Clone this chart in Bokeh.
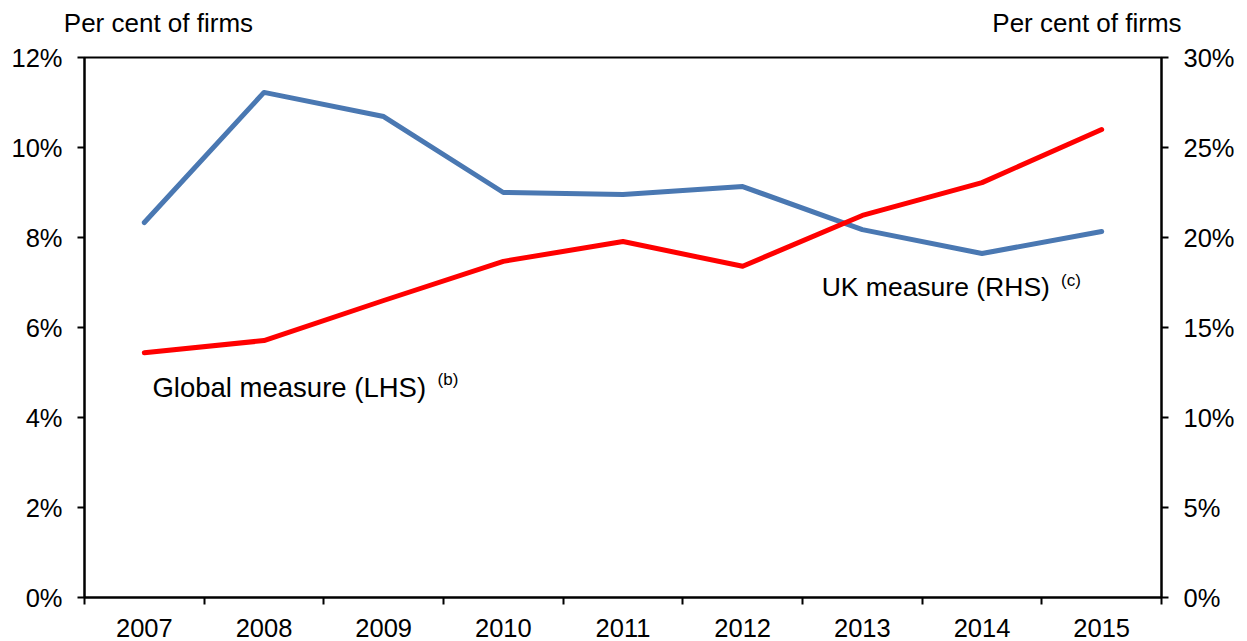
from bokeh.plotting import figure
from bokeh.models import Range1d, LinearAxis, FixedTicker, PrintfTickFormatter, Label
from bokeh.embed import file_html
from bokeh.resources import INLINE

years = ["2007", "2008", "2009", "2010", "2011", "2012", "2013", "2014", "2015"]
global_lhs = [5.44, 5.71, 6.60, 7.47, 7.91, 7.36, 8.49, 9.22, 10.40]
uk_rhs = [20.83, 28.06, 26.72, 22.50, 22.39, 22.83, 20.44, 19.11, 20.33]
left_ticks = [0, 2, 4, 6, 8, 10, 12]
right_ticks = [0, 5, 10, 15, 20, 25, 30]
axis_title = "Per cent of firms"
global_label = "Global measure (LHS)"
global_note = "(b)"
uk_label = "UK measure (RHS)"
uk_note = "(c)"

FONT = "Liberation Sans"
FS = "25.5px"
xs = list(range(len(years)))

p = figure(width=1247, height=641, output_backend="svg", toolbar_location=None,
           x_range=Range1d(-0.5, len(years) - 0.5), y_range=Range1d(0, 12),
           min_border_left=84, min_border_right=86, min_border_top=57, min_border_bottom=44)
p.extra_y_ranges = {"rhs": Range1d(0, 30)}
p.grid.visible = False
p.outline_line_color = "black"
p.outline_line_width = 2
p.background_fill_color = "white"
p.border_fill_color = "white"

# x axis
xa = p.xaxis[0]
xa.ticker = FixedTicker(ticks=xs, minor_ticks=[i - 0.5 for i in range(len(years) + 1)])
xa.major_label_overrides = {i: y for i, y in enumerate(years)}
xa.major_tick_out = 0
xa.major_tick_in = 0
xa.minor_tick_out = 7
xa.minor_tick_in = 0
xa.minor_tick_line_color = "black"
xa.minor_tick_line_width = 2

# left y axis
ya = p.yaxis[0]
ya.ticker = FixedTicker(ticks=left_ticks, minor_ticks=[])
ya.formatter = PrintfTickFormatter(format="%d%%")
ya.major_tick_out = 7
ya.major_tick_in = 0

# right y axis
ra = LinearAxis(y_range_name="rhs", ticker=FixedTicker(ticks=right_ticks, minor_ticks=[]),
                formatter=PrintfTickFormatter(format="%d%%"))
ra.major_tick_out = 7
ra.major_tick_in = 0
p.add_layout(ra, "right")

for ax in [xa, ya, ra]:
    ax.axis_line_color = "black"
    ax.axis_line_width = 2
    ax.major_tick_line_color = "black"
    ax.major_tick_line_width = 2
    ax.major_label_text_font = FONT
    ax.major_label_text_font_size = FS
    ax.major_label_text_color = "black"

xa.major_label_standoff = 14
ya.major_label_standoff = 15
ra.major_label_standoff = 15

# axis unit titles, carried by a bare axis above the frame
title_pos = [0.118, 7.877]
ta = LinearAxis(ticker=FixedTicker(ticks=title_pos, minor_ticks=[]),
                major_label_overrides={title_pos[0]: axis_title, title_pos[1]: axis_title})
ta.axis_line_color = None
ta.major_tick_line_color = None
ta.minor_tick_line_color = None
ta.major_tick_out = 0
ta.major_tick_in = 0
ta.major_label_standoff = 20
ta.major_label_text_font = FONT
ta.major_label_text_font_size = "26px"
ta.major_label_text_color = "black"
p.add_layout(ta, "above")

p.line(xs, uk_rhs, y_range_name="rhs", line_color="#4A78B2", line_width=5,
       line_cap="round", line_join="round")
p.line(xs, global_lhs, line_color="#FF0000", line_width=5,
       line_cap="round", line_join="round")

def lab(text, x, y, size):
    p.add_layout(Label(x=x, y=y, text=text, text_font=FONT, text_font_size=size,
                       text_color="black", text_align="left", text_baseline="alphabetic"))

lab(global_label, 0.068, 4.66, "27.5px")
lab(global_note, 2.45, 4.84, "17px")
lab(uk_label, 5.66, 6.89, "26.5px")
lab(uk_note, 7.66, 7.04, "17px")

open("out.html", "w").write(file_html(p, INLINE))
